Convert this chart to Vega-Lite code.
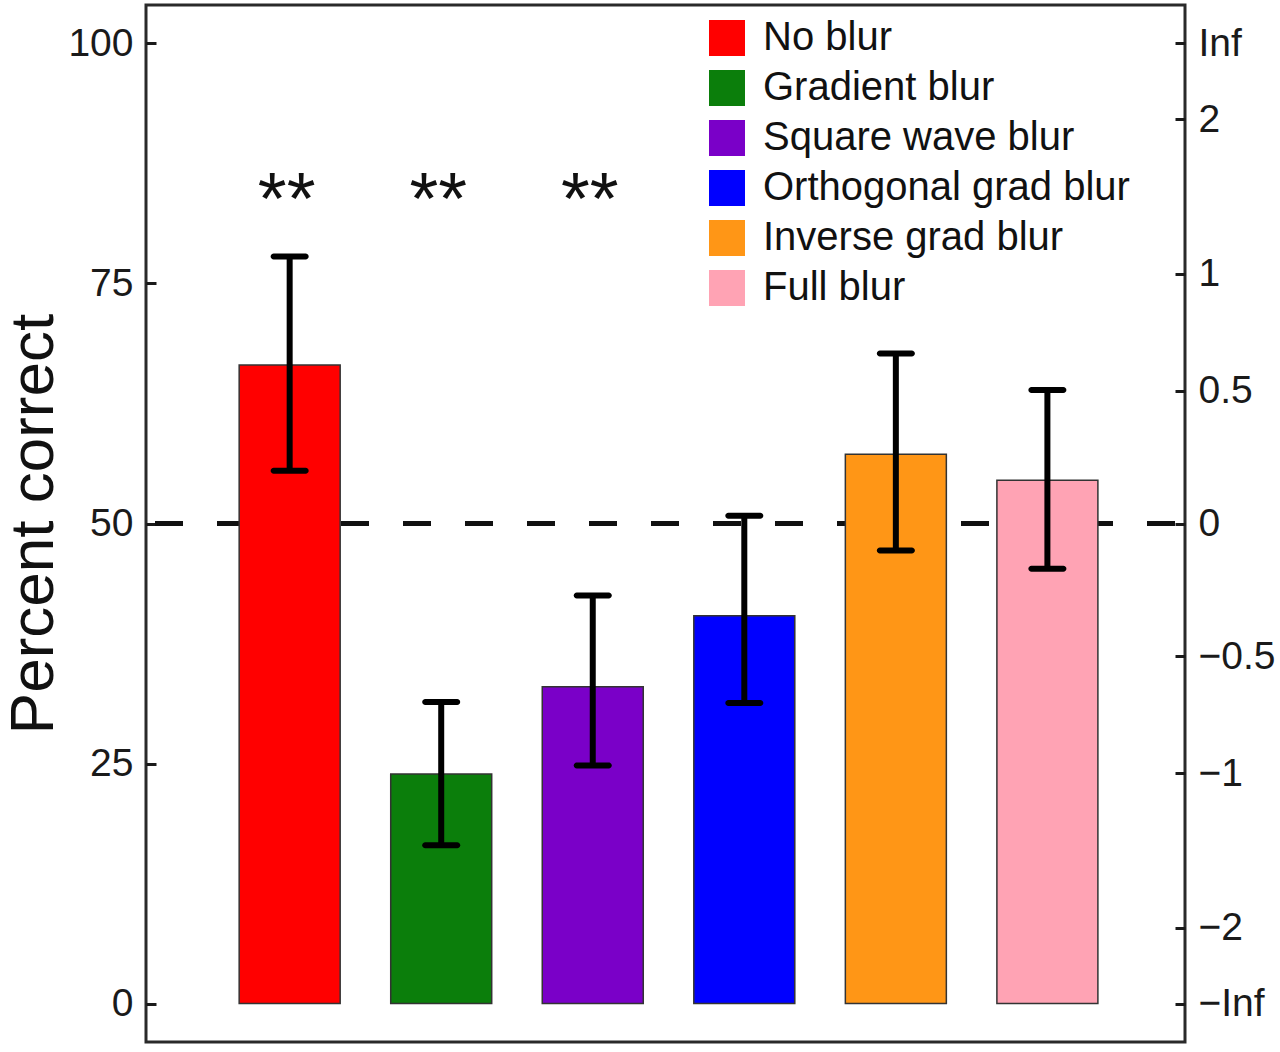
{
  "$schema": "https://vega.github.io/schema/vega-lite/v6.json",
  "width": 1039,
  "height": 1037,
  "autosize": {"type": "none"},
  "padding": {"left": 146, "top": 5, "right": 95, "bottom": 10},
  "background": "white",
  "config": {
    "font": "Liberation Sans",
    "view": {"stroke": "#2a2a2a", "strokeWidth": 3},
    "axis": {"grid": false, "domain": false, "labelFont": "Liberation Sans", "labelFontSize": 39, "labelColor": "#1a1a1a", "tickColor": "#1a1a1a", "tickWidth": 3, "tickSize": -10, "labelPadding": 23}
  },
  "data": {
    "values": [
      {"condition": "No blur", "idx": 1, "pct": 66.5, "lo": 55.5, "hi": 77.8, "sig": "**"},
      {"condition": "Gradient blur", "idx": 2, "pct": 23.9, "lo": 16.5, "hi": 31.4, "sig": "**"},
      {"condition": "Square wave blur", "idx": 3, "pct": 33.0, "lo": 24.8, "hi": 42.5, "sig": "**"},
      {"condition": "Orthogonal grad blur", "idx": 4, "pct": 40.4, "lo": 31.3, "hi": 50.8, "sig": ""},
      {"condition": "Inverse grad blur", "idx": 5, "pct": 57.2, "lo": 47.2, "hi": 67.7, "sig": ""},
      {"condition": "Full blur", "idx": 6, "pct": 54.5, "lo": 45.3, "hi": 63.9, "sig": ""}
    ]
  },
  "layer": [
    {
      "layer": [
        {
          "mark": {"type": "rule", "strokeDash": [28, 34], "strokeDashOffset": 52, "strokeWidth": 5, "color": "#111"},
          "encoding": {"y": {"datum": 50, "type": "quantitative", "scale": {"domain": [-4, 104], "nice": false, "zero": false}}}
        },
        {
          "mark": {"type": "bar", "width": 101, "stroke": "#333", "strokeWidth": 1.5},
          "encoding": {
            "x": {"field": "idx", "type": "quantitative", "scale": {"domain": [0.085, 6.875], "nice": false, "zero": false}, "axis": null},
            "y": {"field": "pct", "type": "quantitative", "title": "Percent correct",
                  "scale": {"domain": [-4, 104], "nice": false, "zero": false},
                  "axis": {"values": [0, 25, 50, 75, 100], "titleFontSize": 62, "titleFontWeight": "normal", "titleFont": "Liberation Sans", "titleColor": "#111", "titlePadding": 2}},
            "color": {"field": "condition", "type": "nominal",
                      "scale": {"domain": ["No blur", "Gradient blur", "Square wave blur", "Orthogonal grad blur", "Inverse grad blur", "Full blur"],
                                "range": ["#FF0000", "#0B7E0B", "#7A00C8", "#0000FF", "#FF9616", "#FFA3B4"]},
                      "legend": {"orient": "none", "legendX": 561, "legendY": 13, "title": null, "symbolType": "square", "symbolSize": 1296, "symbolStrokeWidth": 0, "symbolOpacity": 1, "labelFontSize": 40, "labelFont": "Liberation Sans", "labelColor": "#111", "labelOffset": 16, "rowPadding": 10, "labelLimit": 600}}
          }
        },
        {
          "mark": {"type": "rule", "strokeWidth": 6, "color": "#000"},
          "encoding": {
            "x": {"field": "idx", "type": "quantitative"},
            "y": {"field": "lo", "type": "quantitative"},
            "y2": {"field": "hi"}
          }
        },
        {
          "mark": {"type": "tick", "orient": "horizontal", "size": 38, "thickness": 6, "cornerRadius": 3, "color": "#000", "opacity": 1},
          "encoding": {
            "x": {"field": "idx", "type": "quantitative"},
            "y": {"field": "lo", "type": "quantitative"}
          }
        },
        {
          "mark": {"type": "tick", "orient": "horizontal", "size": 38, "thickness": 6, "cornerRadius": 3, "color": "#000", "opacity": 1},
          "encoding": {
            "x": {"field": "idx", "type": "quantitative"},
            "y": {"field": "hi", "type": "quantitative"}
          }
        },
        {
          "mark": {"type": "text", "fontSize": 74, "font": "Liberation Sans", "color": "#111", "baseline": "alphabetic", "align": "center", "dx": -3},
          "encoding": {
            "x": {"field": "idx", "type": "quantitative"},
            "y": {"datum": 81.2, "type": "quantitative"},
            "text": {"field": "sig"}
          }
        }
      ]
    },
    {
      "mark": {"type": "point", "opacity": 0},
      "encoding": {
        "x": {"field": "idx", "type": "quantitative"},
        "y": {"field": "pct", "type": "quantitative", "title": null,
              "scale": {"domain": [-4, 104], "nice": false, "zero": false},
              "axis": {"orient": "right", "values": [0, 7.9, 24.0, 36.2, 50, 63.8, 76.0, 92.1, 100],
                       "labelExpr": "datum.value == 100 ? 'Inf' : datum.value == 92.1 ? '2' : datum.value == 76 ? '1' : datum.value == 63.8 ? '0.5' : datum.value == 50 ? '0' : datum.value == 36.2 ? '\u22120.5' : datum.value == 24 ? '\u22121' : datum.value == 7.9 ? '\u22122' : '\u2212Inf'"}}
      }
    }
  ],
  "resolve": {"scale": {"y": "independent"}, "axis": {"y": "independent"}}
}
